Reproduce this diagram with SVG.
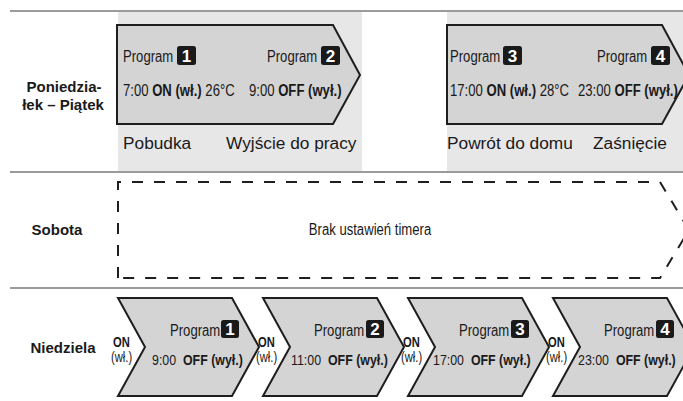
<svg xmlns="http://www.w3.org/2000/svg" width="683" height="401" viewBox="0 0 683 401">
<style>
.sep{stroke:#7a7a7a;stroke-width:1.5;fill:none}
.bg{fill:#e7e7e8}
.shape{fill:#d4d4d4;stroke:#1e1e1e;stroke-width:2;stroke-linejoin:miter}
.dash{fill:none;stroke:#1e1e1e;stroke-width:2;stroke-dasharray:11 11}
.day{font-family:"Liberation Sans",Arial,sans-serif;font-weight:bold;font-size:15px;fill:#1a1a1a;text-anchor:middle}
.n{font-family:"Liberation Sans",Arial,sans-serif;font-size:16px;fill:#1a1a1a;white-space:pre}
.m{font-family:"Liberation Sans",Arial,sans-serif;font-size:15.5px;fill:#1a1a1a;white-space:pre}
.s{font-family:"Liberation Sans",Arial,sans-serif;font-size:14px;fill:#1a1a1a}
.b{font-weight:bold}
.lbl{font-family:"Liberation Sans",Arial,sans-serif;font-size:17.3px;fill:#1a1a1a}
.box{fill:#1a1a1a}
.num{font-family:"Liberation Sans",Arial,sans-serif;font-weight:bold;font-size:17px;fill:#fff;text-anchor:middle}
</style>
<g id="backgrounds">
<rect class="bg" x="118" y="12" width="244" height="159"/>
<rect class="bg" x="447" y="12" width="236" height="159"/>
</g>
<g id="separators">
<line class="sep" x1="10" y1="11" x2="683" y2="11"/>
<line class="sep" x1="10" y1="172" x2="683" y2="172"/>
<line class="sep" x1="10" y1="288" x2="683" y2="288"/>
</g>
<g id="day-labels">
<text class="day" x="64" y="92">Poniedzia-</text>
<text class="day" x="63" y="110">łek – Piątek</text>
<text class="day" x="57" y="235">Sobota</text>
<text class="day" x="63" y="353">Niedziela</text>
</g>
<g id="weekday-p12">
<polygon class="shape" points="117,25 333,25 360,75 333,124 117,124"/>
<text class="n" transform="translate(123 62) scale(0.82 1)">Program</text>
<rect class="box" x="177" y="46" width="19" height="19" rx="2.5"/>
<text class="num" x="186.5" y="61.5">1</text>
<text class="n" transform="translate(267 62) scale(0.82 1)">Program</text>
<rect class="box" x="321" y="46" width="19" height="19" rx="2.5"/>
<text class="num" x="330.5" y="61.5">2</text>
<text class="n" transform="translate(123 96) scale(0.82 1)">7:00 <tspan class="b">ON (wł.)</tspan> 26°C</text>
<text class="n" transform="translate(249 96) scale(0.82 1)">9:00 <tspan class="b">OFF (wył.)</tspan></text>
<text class="lbl" x="123" y="149">Pobudka</text>
<text class="lbl" x="226" y="149">Wyjście do pracy</text>
</g>
<g id="weekday-p34">
<polygon class="shape" points="447,25 662,25 689,75 662,124 447,124"/>
<text class="n" transform="translate(450 62) scale(0.82 1)">Program</text>
<rect class="box" x="503" y="46" width="19" height="19" rx="2.5"/>
<text class="num" x="512.5" y="61.5">3</text>
<text class="n" transform="translate(597 62) scale(0.82 1)">Program</text>
<rect class="box" x="651" y="46" width="19" height="19" rx="2.5"/>
<text class="num" x="660.5" y="61.5">4</text>
<text class="n" transform="translate(450 96) scale(0.82 1)">17:00 <tspan class="b">ON (wł.)</tspan> 28°C</text>
<text class="n" transform="translate(578 96) scale(0.82 1)">23:00 <tspan class="b">OFF (wył.)</tspan></text>
<text class="lbl" x="447" y="149">Powrót do domu</text>
<text class="lbl" x="593" y="149">Zaśnięcie</text>
</g>
<g id="saturday">
<path class="dash" d="M118,278 V182 H660 L689,230 L660,278 Z"/>
<text class="n" text-anchor="middle" transform="translate(370 235) scale(0.82 1)">Brak ustawień timera</text>
</g>
<g id="sunday-p1">
<polygon class="shape" points="118,298 232,298 259,347 232,396 118,396 145,347"/>
<text class="s b" transform="translate(113 347) scale(0.8 1)">ON</text>
<text class="s" transform="translate(111 362) scale(0.8 1)">(wł.)</text>
<text class="n" transform="translate(170 336) scale(0.82 1)">Program</text>
<rect class="box" x="221" y="320" width="18" height="18" rx="2.5"/>
<text class="num" x="230" y="335">1</text>
<text class="m" transform="translate(152 365) scale(0.8 1)">9:00  <tspan class="b">OFF (wył.)</tspan></text>
</g>
<g id="sunday-p2">
<polygon class="shape" points="263,298 377,298 404,347 377,396 263,396 290,347"/>
<text class="s b" transform="translate(258 347) scale(0.8 1)">ON</text>
<text class="s" transform="translate(256 362) scale(0.8 1)">(wł.)</text>
<text class="n" transform="translate(314 336) scale(0.82 1)">Program</text>
<rect class="box" x="366" y="320" width="18" height="18" rx="2.5"/>
<text class="num" x="375" y="335">2</text>
<text class="m" transform="translate(291 365) scale(0.8 1)">11:00  <tspan class="b">OFF (wył.)</tspan></text>
</g>
<g id="sunday-p3">
<polygon class="shape" points="408,298 522,298 549,347 522,396 408,396 435,347"/>
<text class="s b" transform="translate(403 347) scale(0.8 1)">ON</text>
<text class="s" transform="translate(401 362) scale(0.8 1)">(wł.)</text>
<text class="n" transform="translate(459 336) scale(0.82 1)">Program</text>
<rect class="box" x="511" y="320" width="18" height="18" rx="2.5"/>
<text class="num" x="520" y="335">3</text>
<text class="m" transform="translate(433 365) scale(0.8 1)">17:00  <tspan class="b">OFF (wył.)</tspan></text>
</g>
<g id="sunday-p4">
<polygon class="shape" points="553,298 667,298 694,347 667,396 553,396 580,347"/>
<text class="s b" transform="translate(548 347) scale(0.8 1)">ON</text>
<text class="s" transform="translate(546 362) scale(0.8 1)">(wł.)</text>
<text class="n" transform="translate(604 336) scale(0.82 1)">Program</text>
<rect class="box" x="656" y="320" width="18" height="18" rx="2.5"/>
<text class="num" x="665" y="335">4</text>
<text class="m" transform="translate(578 365) scale(0.8 1)">23:00  <tspan class="b">OFF (wył.)</tspan></text>
</g>
</svg>
